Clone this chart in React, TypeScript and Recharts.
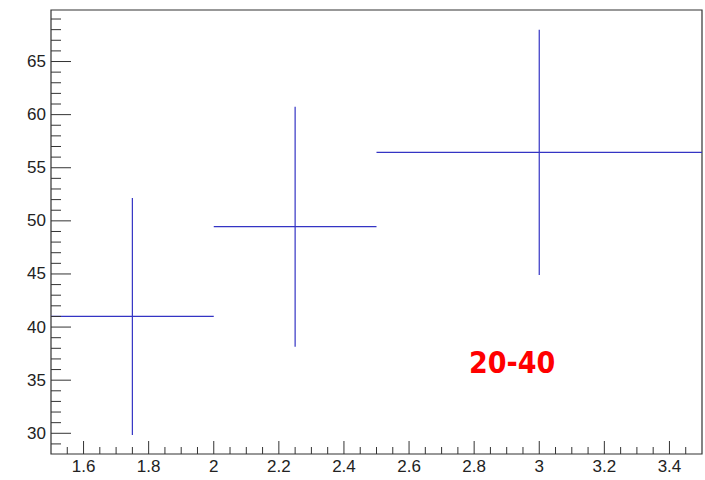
import {
  ScatterChart,
  Scatter,
  XAxis,
  YAxis,
  ErrorBar,
  ReferenceArea,
  ReferenceDot,
} from "recharts";

// bins: centre, half width, measured value and its error
const binCenters = [1.75, 2.25, 3.0];
const binHalfWidths = [0.25, 0.25, 0.5];
const yields = [41.0, 49.45, 56.45];
const yieldErrors = [11.15, 11.3, 11.55];

const xMajorTicks = [1.6, 1.8, 2.0, 2.2, 2.4, 2.6, 2.8, 3.0, 3.2, 3.4];
const yMajorTicks = [30, 35, 40, 45, 50, 55, 60, 65];
const rangeLabel = "20-40";

const X_DOMAIN: [number, number] = [1.5, 3.5];
const Y_DOMAIN: [number, number] = [28.05, 69.85];

const FONT = "'Liberation Sans', Arial, Helvetica, sans-serif";
const AXIS_COLOR = "#333";
const SERIES_COLOR = "#3434c4";

const points = binCenters.map((x, i) => ({
  x,
  y: yields[i],
  xErr: binHalfWidths[i],
  yErr: yieldErrors[i],
}));

// minor ticks: 0.05 on x, 1 on y
const xTicks: number[] = [];
for (let i = 31; i <= 69; i++) xTicks.push(Math.round(i * 5) / 100);
const yTicks: number[] = [];
for (let v = 29; v <= 69; v++) yTicks.push(v);

const isMajorX = (v: number) => xMajorTicks.some((m) => Math.abs(m - v) < 1e-6);
const isMajorY = (v: number) => yMajorTicks.includes(v);

const XTick = (props: any) => {
  const { x, y, payload } = props;
  const major = isMajorX(payload.value);
  return (
    <g>
      <line x1={x} y1={y} x2={x} y2={y - (major ? 13 : 7)} stroke={AXIS_COLOR} strokeWidth={1} />
      {major && (
        <text x={x} y={y + 18} textAnchor="middle" fontSize={17} fontFamily={FONT} fill="#222">
          {Number(payload.value.toFixed(2)).toString()}
        </text>
      )}
    </g>
  );
};

const YTick = (props: any) => {
  const { x, y, payload } = props;
  const major = isMajorY(payload.value);
  return (
    <g>
      <line x1={x} y1={y} x2={x + (major ? 20 : 10)} y2={y} stroke={AXIS_COLOR} strokeWidth={1} />
      {major && (
        <text
          x={x - 5}
          y={y}
          textAnchor="end"
          dominantBaseline="central"
          fontSize={17}
          fontFamily={FONT}
          fill="#222"
        >
          {payload.value}
        </text>
      )}
    </g>
  );
};

export default function App() {
  return (
    <div style={{ position: "absolute", left: 0, top: 0, background: "#fff" }}>
      <ScatterChart width={705} height={480} margin={{ top: 10, right: 3, bottom: 0, left: 0 }}>
        <XAxis
          type="number"
          dataKey="x"
          domain={X_DOMAIN}
          ticks={xTicks}
          interval={0}
          allowDataOverflow
          height={26}
          tickSize={0}
          tickMargin={0}
          tickLine={false}
          axisLine={false}
          tick={XTick}
        />
        <YAxis
          type="number"
          dataKey="y"
          domain={Y_DOMAIN}
          ticks={yTicks}
          interval={0}
          allowDataOverflow
          width={51}
          tickSize={0}
          tickMargin={0}
          tickLine={false}
          axisLine={false}
          tick={YTick}
        />
        <ReferenceArea
          x1={X_DOMAIN[0]}
          x2={X_DOMAIN[1]}
          y1={Y_DOMAIN[0]}
          y2={Y_DOMAIN[1]}
          fill="none"
          stroke={AXIS_COLOR}
          strokeWidth={1.2}
        />
        <Scatter data={points} isAnimationActive={false} shape={() => <g />}>
          <ErrorBar dataKey="xErr" direction="x" width={0} stroke={SERIES_COLOR} strokeWidth={1.2} />
          <ErrorBar dataKey="yErr" direction="y" width={0} stroke={SERIES_COLOR} strokeWidth={1.2} />
        </Scatter>
        <ReferenceDot
          x={2.917}
          y={35.64}
          r={0}
          shape={(p: any) => (
            <text
              x={p.cx}
              y={p.cy}
              textAnchor="middle"
              fontSize={30}
              fontWeight="bold"
              fontFamily="'DejaVu Sans Condensed', 'DejaVu Sans', sans-serif"
              fill="#ff0000"
            >
              {rangeLabel}
            </text>
          )}
        />
      </ScatterChart>
    </div>
  );
}
